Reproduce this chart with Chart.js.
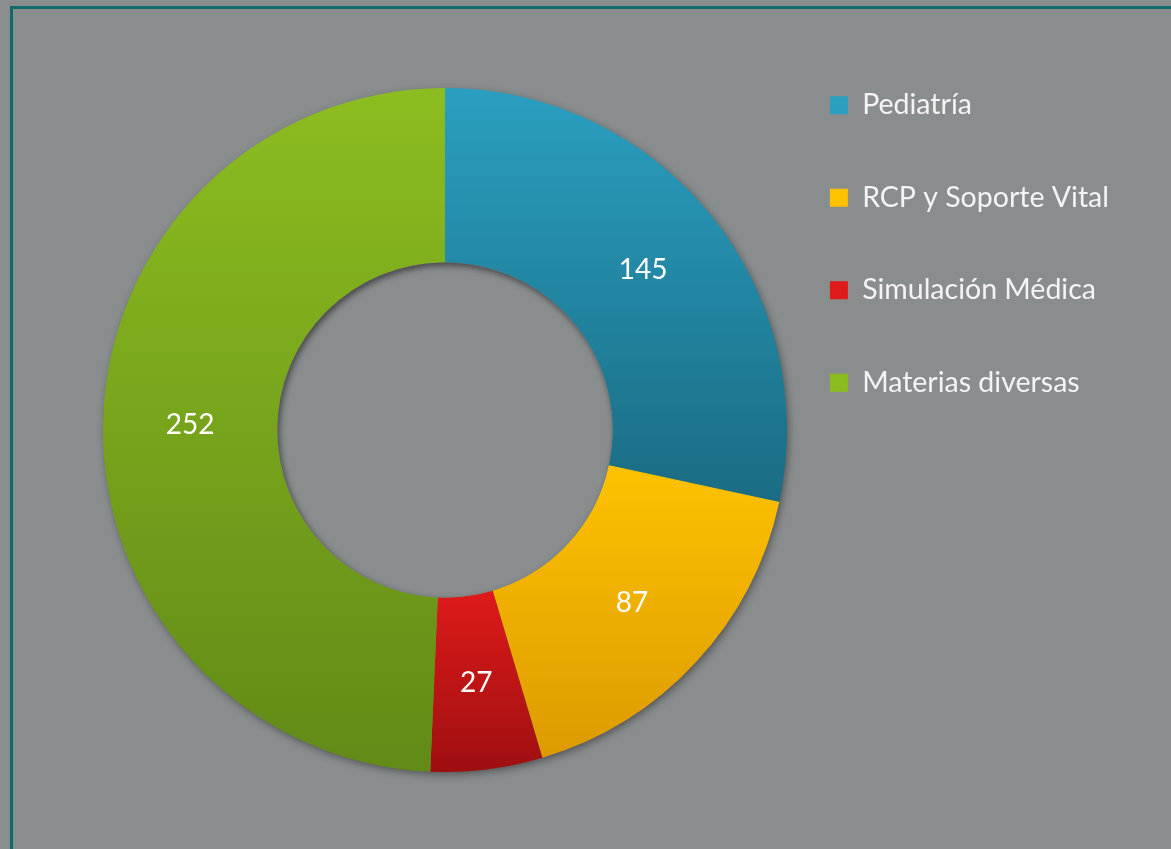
<!DOCTYPE html>
<html>
<head>
<meta charset="utf-8">
<script src="https://cdn.jsdelivr.net/npm/chart.js@4.4.1/dist/chart.umd.min.js"></script>
<style>
  html, body { margin: 0; padding: 0; background: #8a8d8e; overflow: hidden; }
  #frame { position: absolute; left: 10px; top: 6px; width: 1300px; height: 1000px; border: 3px solid #0f6b6b; }
  #wrap { position: absolute; left: 0; top: 0; width: 1171px; height: 849px; }
</style>
</head>
<body>
<div id="frame"></div>
<div id="wrap"><canvas id="myChart"></canvas></div>
<script>
const labels = ['Pediatría', 'RCP y Soporte Vital', 'Simulación Médica', 'Materias diversas'];
const values = [145, 87, 27, 252];
// light (top) and dark (bottom) colour of each slice
const topColors = ['#2a9fc0', '#ffc200', '#de1a1a', '#8cbd20'];
const bottomColors = ['#1a6c83', '#dd9a00', '#9e0f10', '#628a17'];

const CUTOUT = 0.49;
const RADIUS = 342;
const BG = '#8a8d8e';

// vertical extent of one slice, so each slice gets its own gradient
function sliceExtent(chart, index) {
  const area = chart.chartArea;
  const cy = (area.top + area.bottom) / 2;
  const total = values.reduce((a, b) => a + b, 0);
  let before = 0;
  for (let i = 0; i < index; i++) before += values[i];
  const a0 = before / total * Math.PI * 2;
  const a1 = (before + values[index]) / total * Math.PI * 2;
  const rIn = RADIUS * CUTOUT;
  const ys = [];
  [a0, a1].forEach((a) => {
    ys.push(cy - RADIUS * Math.cos(a));
    ys.push(cy - rIn * Math.cos(a));
  });
  if (a0 <= 0) ys.push(cy - RADIUS);
  if (a0 <= Math.PI && a1 >= Math.PI) ys.push(cy + RADIUS);
  return [Math.min(...ys), Math.max(...ys)];
}

function sliceFill(context) {
  const chart = context.chart;
  const i = context.dataIndex;
  if (!chart.chartArea || i === undefined) return topColors[i || 0];
  const [y0, y1] = sliceExtent(chart, i);
  const g = chart.ctx.createLinearGradient(0, y0, 0, y1);
  g.addColorStop(0, topColors[i]);
  g.addColorStop(1, bottomColors[i]);
  return g;
}

// soft shadow under the ring and inside the hole
const ringShadow = {
  id: 'ringShadow',
  beforeDatasetsDraw(chart) {
    const arc = chart.getDatasetMeta(0).data[0];
    if (!arc) return;
    const { ctx } = chart;
    ctx.save();
    ctx.shadowColor = 'rgba(0,0,0,0.45)';
    ctx.shadowBlur = 8;
    ctx.shadowOffsetX = 2;
    ctx.shadowOffsetY = 3;
    ctx.fillStyle = '#70913a';
    ctx.beginPath();
    ctx.arc(arc.x, arc.y, arc.outerRadius - 1, 0, Math.PI * 2);
    ctx.arc(arc.x, arc.y, arc.innerRadius + 2, 0, Math.PI * 2, true);
    ctx.fill();
    ctx.restore();
  },
  afterDatasetsDraw(chart) {
    const arc = chart.getDatasetMeta(0).data[0];
    if (!arc) return;
    const { ctx } = chart;
    const r = arc.innerRadius;
    ctx.save();
    ctx.beginPath();
    ctx.arc(arc.x, arc.y, r, 0, Math.PI * 2);
    ctx.clip();
    ctx.fillStyle = BG;
    ctx.fill();
    ctx.shadowColor = 'rgba(0,0,0,0.5)';
    ctx.shadowBlur = 6;
    ctx.shadowOffsetX = 2;
    ctx.shadowOffsetY = 3;
    ctx.strokeStyle = BG;
    ctx.lineWidth = 10;
    ctx.beginPath();
    ctx.arc(arc.x, arc.y, r + 5, 0, Math.PI * 2);
    ctx.stroke();
    ctx.restore();
  },
};

// values written in the middle of each slice
const sliceLabels = {
  id: 'sliceLabels',
  afterDatasetsDraw(chart) {
    const { ctx } = chart;
    ctx.save();
    ctx.fillStyle = '#ffffff';
    ctx.font = '28px Lato';
    ctx.textAlign = 'center';
    ctx.textBaseline = 'middle';
    chart.getDatasetMeta(0).data.forEach((arc, i) => {
      const p = arc.tooltipPosition();
      ctx.fillText(String(values[i]), p.x, p.y);
    });
    ctx.restore();
  },
};

window.addEventListener('DOMContentLoaded', () => {
  const config = {
    type: 'doughnut',
    data: {
      labels,
      datasets: [{
        data: values,
        backgroundColor: sliceFill,
        borderWidth: 0,
        radius: RADIUS,
        cutout: (CUTOUT * 100) + '%',
      }],
    },
    options: {
      responsive: true,
      maintainAspectRatio: false,
      animation: false,
      layout: {
        padding: { top: 27, bottom: 16, left: 124, right: 52 },
      },
      plugins: {
        tooltip: { enabled: false },
        legend: {
          position: 'right',
          align: 'start',
          labels: {
            color: '#f4f4f4',
            boxWidth: 18,
            boxHeight: 18,
            padding: 64,
            font: { family: 'Lato', size: 28.5 },
            generateLabels(chart) {
              return labels.map((text, i) => ({
                text,
                fillStyle: topColors[i],
                strokeStyle: 'rgba(0,0,0,0)',
                lineWidth: 0,
                fontColor: '#f4f4f4',
                index: i,
              }));
            },
          },
        },
      },
    },
    plugins: [ringShadow, sliceLabels],
  };

  const ctx = document.getElementById('myChart');
  const chart = new Chart(ctx, config);
});
</script>
</body>
</html>
